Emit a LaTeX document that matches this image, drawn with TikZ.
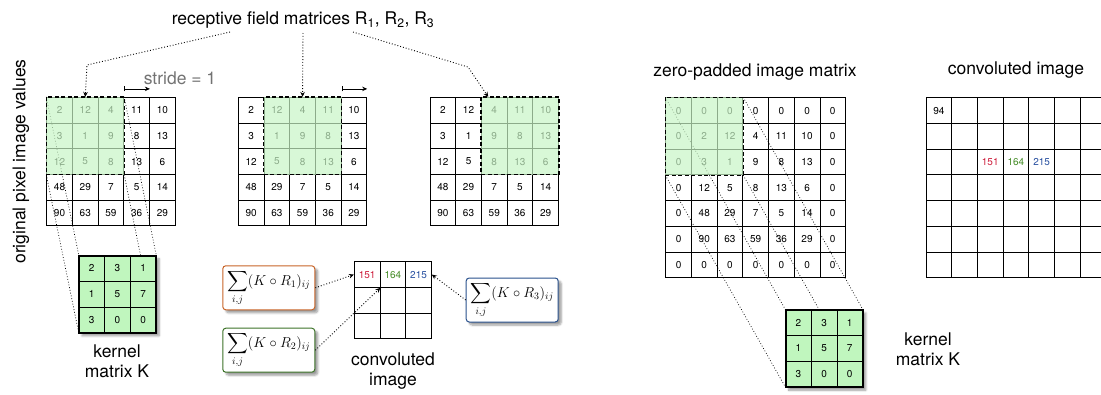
\documentclass[tikz,border=0pt]{standalone}
\usepackage{amsmath}
\usepackage[no-math]{fontspec}
\setmainfont{TeX Gyre Heros}
\usetikzlibrary{arrows.meta,shadows,shadows.blur}
\definecolor{rfgreen}{RGB}{200,245,198}
\definecolor{kerngreen}{RGB}{192,246,190}
\definecolor{sumorange}{RGB}{200,100,40}
\definecolor{sumgreen}{RGB}{60,115,40}
\definecolor{sumblue}{RGB}{40,80,140}
\definecolor{valred}{RGB}{205,30,60}
\definecolor{valgreen}{RGB}{70,140,40}
\definecolor{valblue}{RGB}{40,80,160}
\tikzset{
  >={Stealth[length=5pt,width=4.5pt]},
  cell/.style={draw, line width=0.8pt, minimum size=25.7pt, inner sep=0pt,
    font=\fontsize{10}{11}\selectfont},
  num/.style={inner sep=0pt, font=\fontsize{10}{11}\selectfont},
  rf/.style={fill=rfgreen, fill opacity=0.7, draw=black, line width=1.3pt,
    dash pattern=on 4pt off 2.5pt},
  kernspot/.style={minimum size=77.1pt, inner sep=0pt},
  kernbox/.style={kernspot, fill=kerngreen, draw, line width=1.6pt,
    blur shadow={shadow xshift=3pt, shadow yshift=-3pt, shadow blur steps=6}},
  sumbox/.style={draw, fill=white, line width=1pt, rounded corners=3pt,
    minimum width=92pt, minimum height=44pt, inner sep=2pt,
    font=\fontsize{14.4}{16}\selectfont,
    blur shadow={shadow xshift=3pt, shadow yshift=-3pt, shadow blur steps=6}},
  link/.style={line width=0.7pt, dash pattern=on 0.8pt off 2pt},
  ptr/.style={->, line width=0.9pt, dash pattern=on 0.9pt off 2pt},
  stridearrow/.style={{Bar[width=5pt]}->, line width=0.8pt},
  lbl/.style={font=\fontsize{17.5}{20}\selectfont, align=center},
}

\begin{document}
\begin{tikzpicture}[x=1pt, y=-1pt]
  \useasboundingbox (0,0) rectangle (1101,394);

  % original image, three times
  \foreach \m/\x in {L/46.7, C/238.3, R/430}
    \foreach \row [count=\i] in {{2,12,4,11,10},{3,1,9,8,13},{12,5,8,13,6},{48,29,7,5,14},{90,63,59,36,29}}
      \foreach \v [count=\j] in \row
        \node[cell] (\m-\i-\j) at ({\x+(\j-0.5)*25.7}, {97.3+(\i-0.5)*25.7}) {\v};

  % zero-padded image
  \foreach \row [count=\i] in {{0,0,0,0,0,0,0},{0,2,12,4,11,10,0},{0,3,1,9,8,13,0},{0,12,5,8,13,6,0},{0,48,29,7,5,14,0},{0,90,63,59,36,29,0},{0,0,0,0,0,0,0}}
    \foreach \v [count=\j] in \row
      \node[cell] (P-\i-\j) at ({665.7+(\j-0.5)*25.7}, {97.7+(\i-0.5)*25.7}) {\v};

  % convoluted images
  \foreach \i in {1,...,7}
    \foreach \j in {1,...,7}
      \node[cell] (O-\i-\j) at ({926+(\j-0.5)*25.7}, {97.7+(\i-0.5)*25.7}) {};
  \foreach \i in {1,2,3}
    \foreach \j in {1,2,3}
      \node[cell] (S-\i-\j) at ({354.3+(\j-0.5)*25.7}, {261.7+(\i-0.5)*25.7}) {};
  \node[num] (v94) at (O-1-1) {94};
  \foreach \v/\c [count=\j] in {151/valred, 164/valgreen, 215/valblue} {
    \node[num, text=\c] (s\j) at (S-1-\j) {\v};
    \node[num, text=\c] (o\j) at (O-3-\the\numexpr\j+2\relax) {\v};
  }

  % receptive field to kernel
  \node[kernspot] (KL) at (117.55,294.25) {};
  \node[kernspot] (KR) at (824.25,348.55) {};
  \draw[link] (L-1-1.north west) -- (KL.north west);
  \draw[link] (L-3-1.south west) -- (KL.south west);
  \draw[link] (L-1-3.north east) -- (KL.north east);
  \draw[link] (L-3-3.south east) -- (KL.south east);
  \draw[link] (P-1-1.north west) -- (KR.north west);
  \draw[link] (P-3-1.south west) -- (KR.south west);
  \draw[link] (P-1-3.north east) -- (KR.north east);
  \draw[link] (P-3-3.south east) -- (KR.south east);

  % receptive fields
  \draw[rf] (L-1-1.north west) rectangle (L-3-3.south east);
  \draw[rf] (C-1-2.north west) rectangle (C-3-4.south east);
  \draw[rf] (R-1-3.north west) rectangle (R-3-5.south east);
  \draw[rf] (P-1-1.north west) rectangle (P-3-3.south east);

  % kernels
  \foreach \k in {KL, KR} {
    \node[kernbox] (\k box) at (\k) {};
    \foreach \row [count=\i] in {{2,3,1},{1,5,7},{3,0,0}}
      \foreach \v [count=\j] in \row
        \node[cell] (\k-\i-\j) at ([xshift={(\j-0.5)*25.7pt}, yshift={-(\i-0.5)*25.7pt}]\k.north west) {\v};
  }

  % labels
  \node[lbl] (title) at (303,20) {receptive field matrices R\textsubscript{1}, R\textsubscript{2}, R\textsubscript{3}};
  \node[lbl, text=black!55] (stridetxt) at (180,78) {stride = 1};
  \node[lbl, rotate=90] (ylab) at (21,161.5) {original pixel image values};
  \node[lbl] (klab1) at (117,361) {kernel\\matrix K};
  \node[lbl] (clab1) at (393,371) {convoluted\\image};
  \node[lbl] (padlab) at (755,72) {zero-padded image matrix};
  \node[lbl] (clab2) at (1016,70) {convoluted image};
  \node[lbl] (klab2) at (928,349) {kernel\\matrix K};

  % title arrows
  \coordinate (t1) at (230,32);
  \coordinate (b1) at (87,65);
  \coordinate (t2) at (303,33);
  \coordinate (t3) at (353,32);
  \coordinate (b3) at (468,67);
  \draw[ptr] (t1) -- (b1) -- (L-1-2.north);
  \draw[ptr] (t2) -- (C-1-3.north);
  \draw[ptr] (t3) -- (b3) -- ([xshift=-6pt]R-1-3.north);

  % stride
  \draw[stridearrow] ([yshift=8pt]L-1-3.north east) -- ([yshift=8pt]L-1-4.north east);
  \draw[stridearrow] ([yshift=8pt]C-1-4.north east) -- ([yshift=8pt]C-1-5.north east);

  % sums
  \node[sumbox, draw=sumorange] (sum1) at (268.8,287.8) {$\displaystyle\sum_{i,j}(K\circ R_1)_{ij}$};
  \node[sumbox, draw=sumgreen] (sum2) at (268.8,350.2) {$\displaystyle\sum_{i,j}(K\circ R_2)_{ij}$};
  \node[sumbox, draw=sumblue] (sum3) at (512.2,300) {$\displaystyle\sum_{i,j}(K\circ R_3)_{ij}$};
  \draw[ptr] (sum1.east) -- (S-1-1.west);
  \draw[ptr] (sum2.east) -- (S-1-1.south east);
  \draw[ptr] (sum3.west) -- (S-1-3.east);
\end{tikzpicture}
\end{document}
